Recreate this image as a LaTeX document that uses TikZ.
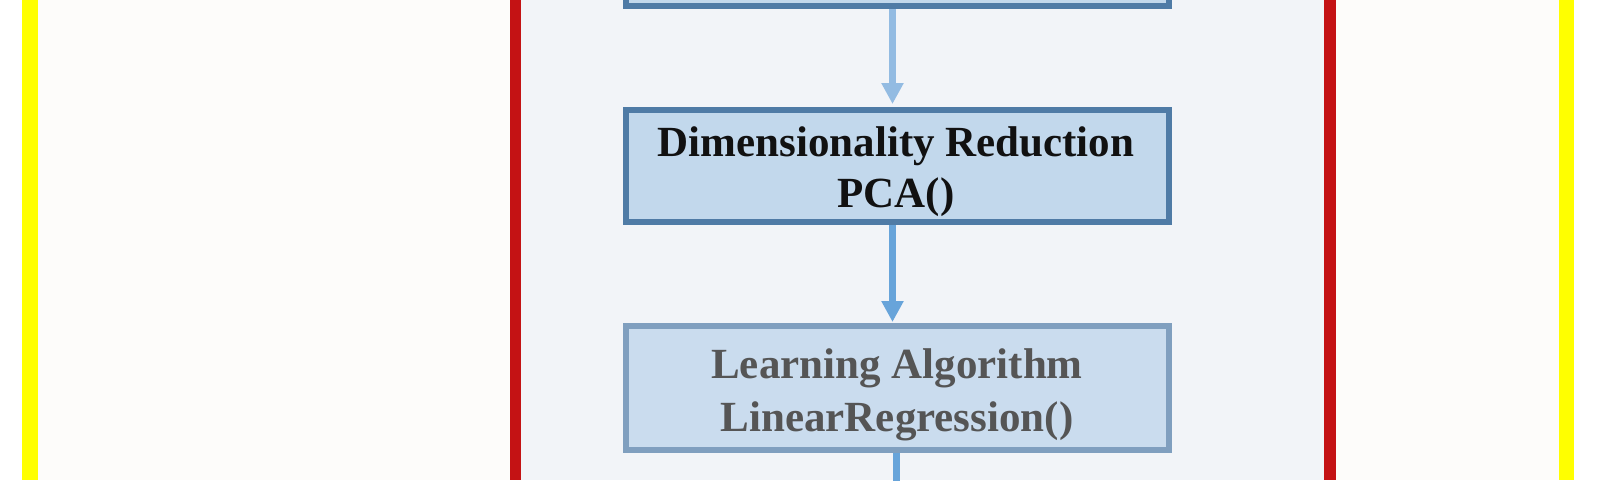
\documentclass[tikz,border=0pt]{standalone}
\usepackage{fontspec}
\setmainfont{Liberation Serif}
\usetikzlibrary{arrows.meta}
\definecolor{offwhite}{HTML}{FDFCFA}
\definecolor{panel}{HTML}{F2F4F8}
\definecolor{redbar}{HTML}{C41214}
\definecolor{yelbar}{HTML}{FFFF00}
\definecolor{bdark}{HTML}{4F7BA6}
\definecolor{fdark}{HTML}{C2D8EC}
\definecolor{blight}{HTML}{809FBF}
\definecolor{flight}{HTML}{CADCEE}
\definecolor{arrA}{HTML}{93BBE2}
\definecolor{arrB}{HTML}{68A4DA}
\definecolor{txtgrey}{HTML}{555555}
\definecolor{txtdark}{HTML}{111111}
\tikzset{
  boxdark/.style={draw=bdark, fill=fdark, line width=6pt, rectangle,
    minimum width=543pt, inner sep=0pt},
  boxlight/.style={draw=blight, fill=flight, line width=6pt, rectangle,
    minimum width=543pt, inner sep=0pt},
  lbl/.style={font=\fontsize{43}{51}\selectfont\bfseries, inner sep=0pt, anchor=base},
  flowarrow/.style={line width=7pt, -{Triangle[length=21pt,width=21pt]}},
}
\begin{document}
\begin{tikzpicture}[x=1pt,y=-1pt]
\useasboundingbox (0,0) rectangle (1600,480);
\clip (0,0) rectangle (1600,480);
% backgrounds
\fill[white] (0,0) rectangle (1600,480);
\fill[offwhite] (38,0) rectangle (1559,480);
\fill[panel] (521,0) rectangle (1324,480);
\fill[yelbar] (22,0) rectangle (38,480);
\fill[yelbar] (1559,0) rectangle (1574,480);
\fill[redbar] (510,0) rectangle (521,480);
\fill[redbar] (1324,0) rectangle (1336,480);
% boxes
\node[boxdark, minimum height=112pt] (b1) at (897.5,-50) {};
\node[boxdark, minimum height=112pt] (b2) at (897.5,166) {};
\node[boxlight, minimum height=124pt] (b3) at (897.5,388) {};
% texts
\node[lbl, text=txtdark] (t2a) at (896,156) {Dimensionality Reduction};
\node[lbl, text=txtdark] (t2b) at (896,207) {PCA()};
\node[lbl, text=txtgrey] (t3a) at (897,378) {Learning Algorithm};
\node[lbl, text=txtgrey] (t3b) at (897,431) {LinearRegression()};
% arrows
\coordinate (endc) at ([xshift=-1pt]b3.south |- 0,490);
\draw[flowarrow, draw=arrA, shorten >=3pt] ([xshift=-5pt]b1.south) -- ([xshift=-5pt]b2.north);
\draw[flowarrow, draw=arrB, shorten >=1pt] ([xshift=-5pt]b2.south) -- ([xshift=-5pt]b3.north);
\draw[line width=7pt, draw=arrB] ([xshift=-1pt]b3.south) -- (endc);
\end{tikzpicture}
\end{document}
